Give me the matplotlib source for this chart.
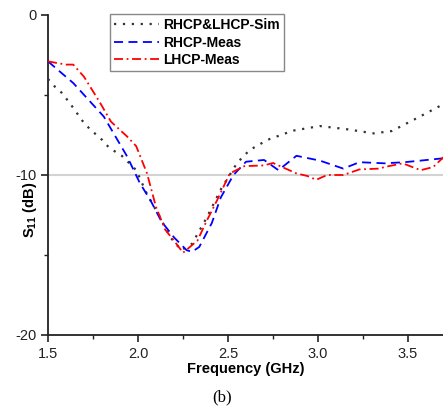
import matplotlib
matplotlib.use("Agg")
import matplotlib.pyplot as plt
from matplotlib.ticker import MultipleLocator

plt.rcParams['font.family'] = ['Liberation Sans', 'DejaVu Sans']
plt.rcParams['mathtext.default'] = 'regular'

# RHCP&LHCP-Sim
sim_f = [1.50, 1.54, 1.58, 1.64, 1.69, 1.73, 1.80, 1.84, 1.91, 1.955, 1.99, 2.05, 2.12, 2.18, 2.24, 2.30, 2.38, 2.46, 2.55, 2.62, 2.72, 2.86, 3.01, 3.16, 3.31, 3.41, 3.55, 3.70]
sim_db = [-4.0, -4.5, -4.9, -5.8, -6.6, -7.1, -7.8, -8.3, -8.8, -9.3, -9.7, -11.2, -12.6, -13.9, -14.7, -14.3, -12.7, -10.9, -9.25, -8.44, -7.8, -7.23, -6.94, -7.14, -7.4, -7.25, -6.44, -5.55]

# RHCP-Meas
rh_f = [1.50, 1.64, 1.81, 1.94, 2.01, 2.07, 2.13, 2.20, 2.27, 2.30, 2.34, 2.41, 2.46, 2.53, 2.60, 2.70, 2.78, 2.88, 3.01, 3.14, 3.23, 3.37, 3.48, 3.57, 3.70]
rh_db = [-2.9, -4.25, -6.35, -8.85, -10.5, -11.6, -12.9, -13.9, -14.7, -14.8, -14.5, -13.0, -11.4, -10.0, -9.17, -9.06, -9.7, -8.8, -9.1, -9.6, -9.2, -9.27, -9.2, -9.1, -8.95]

# LHCP-Meas
lh_f = [1.50, 1.60, 1.64, 1.70, 1.79, 1.85, 1.94, 1.99, 2.05, 2.10, 2.15, 2.22, 2.25, 2.33, 2.38, 2.44, 2.51, 2.59, 2.70, 2.75, 2.88, 2.94, 2.99, 3.05, 3.14, 3.23, 3.34, 3.37, 3.47, 3.57, 3.64, 3.70]
lh_db = [-2.9, -3.1, -3.1, -3.86, -5.5, -6.67, -7.6, -8.2, -9.9, -12.0, -13.4, -14.4, -14.86, -14.1, -12.9, -11.56, -9.9, -9.45, -9.4, -9.25, -9.9, -10.06, -10.3, -10.0, -10.0, -9.65, -9.6, -9.5, -9.27, -9.7, -9.5, -8.85]

labels = ['RHCP&LHCP-Sim', 'RHCP-Meas', 'LHCP-Meas']

fig = plt.figure(figsize=(4.43, 4.13), dpi=100)
ax = fig.add_axes([48/443, 1-335/413, 1-48/443, (335-15)/413])

ax.axhline(-10, color='#d3d3d3', lw=1.5, zorder=1)
ax.plot(sim_f, sim_db, color='#333333', ls=(0, (1, 3)), lw=1.6, label=labels[0], zorder=3)
ax.plot(rh_f, rh_db, color='blue', ls=(0, (5, 3)), lw=1.3, label=labels[1], zorder=3)
ax.plot(lh_f, lh_db, color='red', ls=(0, (5, 2, 1, 2)), lw=1.3, label=labels[2], zorder=4)

ax.set_xlim(1.5, 3.694)
ax.set_ylim(-20, 0)
ax.xaxis.set_major_locator(MultipleLocator(0.5))
ax.xaxis.set_minor_locator(MultipleLocator(0.25))
ax.yaxis.set_major_locator(MultipleLocator(10))
ax.yaxis.set_minor_locator(MultipleLocator(5))
ax.set_xticks([1.5, 2.0, 2.5, 3.0, 3.5])
ax.set_xticklabels(['1.5', '2.0', '2.5', '3.0', '3.5'])
ax.set_yticks([0, -10, -20])
ax.set_yticklabels(['0', '-10', '-20'])
for s in ['top', 'right']:
    ax.spines[s].set_visible(False)
for s in ['left', 'bottom']:
    ax.spines[s].set_linewidth(1.3)
    ax.spines[s].set_color('#222222')
ax.tick_params(which='major', direction='out', length=5, width=1.2, labelsize=10.5, colors='#222222')
ax.tick_params(which='minor', direction='out', length=3, width=1.0, colors='#222222')

ax.set_xlabel('Frequency (GHz)', fontweight='bold', fontsize=10.5, labelpad=1)
fig.text(30/443, 1-210/413, 'S$_{11}$ (dB)', rotation=90, fontweight='bold', fontsize=10.5,
         ha='center', va='center')

leg = ax.legend(loc='upper left', bbox_to_anchor=(110/443, 1-14/413), bbox_transform=fig.transFigure,
                fancybox=False, edgecolor='#888888', framealpha=1, handlelength=3.2,
                prop={'weight': 'bold', 'size': 10}, borderpad=0.3, labelspacing=0.25,
                handletextpad=0.3, borderaxespad=0)
leg.get_frame().set_linewidth(1.0)

fig.text(222/443, 1-397/413, '(b)', fontsize=12, family='Liberation Serif', ha='center', va='center')

fig.savefig('out.png', dpi=100)
